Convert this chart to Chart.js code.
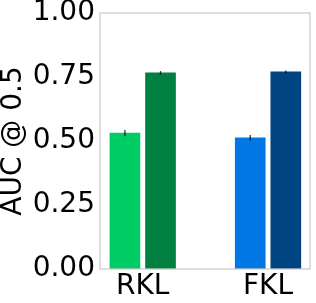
<!DOCTYPE html>
<html>
<head>
<meta charset="utf-8">
<script src="https://cdn.jsdelivr.net/npm/chart.js@4"></script>
<style>
  html, body { margin: 0; padding: 0; background: #fff; }
  #wrap { width: 316px; height: 303px; }
</style>
</head>
<body>
<div id="wrap"><canvas id="aucChart"></canvas></div>
<script>
let categories = ["RKL", "FKL"];
let firstValues = [0.531, 0.512];
let firstErrors = [0.012, 0.011];
let secondValues = [0.766, 0.770];
let secondErrors = [0.007, 0.005];
let firstColors = ["#00cc66", "#0077e5"];
let secondColors = ["#008040", "#004481"];
let yTicks = [0, 0.25, 0.5, 0.75, 1];

// offset of each bar from its group centre, in x units
let shift = 0.142;

let font = { family: "DejaVu Sans", size: 28, lineHeight: 1 };

let errorBars = {
    id: "errorBars",
    afterDatasetsDraw(chart) {
        let ctx = chart.ctx;
        let y = chart.scales.y;
        let a = chart.chartArea;
        ctx.save();
        // frame round the plot
        ctx.strokeStyle = "#cccccc";
        ctx.lineWidth = 1.3;
        ctx.strokeRect(a.left, a.top, a.right - a.left, a.bottom - a.top);
        ctx.strokeStyle = "rgba(0,0,0,0.8)";
        ctx.lineWidth = 1.3;
        chart.data.datasets.forEach((ds, di) => {
            let meta = chart.getDatasetMeta(di);
            meta.data.forEach((bar, i) => {
                let v = ds.data[i].y;
                let e = ds.errors[i];
                ctx.beginPath();
                ctx.moveTo(bar.x, y.getPixelForValue(v - e));
                ctx.lineTo(bar.x, y.getPixelForValue(v + e));
                ctx.stroke();
            });
        });
        ctx.restore();
    }
};

new Chart("aucChart", {
    type: "bar",
    data: {
        datasets: [
            {
                data: firstValues.map((v, i) => ({ x: i - shift, y: v })),
                errors: firstErrors,
                backgroundColor: firstColors
            },
            {
                data: secondValues.map((v, i) => ({ x: i + shift, y: v })),
                errors: secondErrors,
                backgroundColor: secondColors
            }
        ]
    },
    options: {
        responsive: true,
        maintainAspectRatio: false,
        animation: false,
        layout: { padding: { top: 13, right: 6, bottom: 0, left: 0 } },
        datasets: {
            bar: {
                grouped: false,
                categoryPercentage: 1,
                barPercentage: 1,
                maxBarThickness: 30
            }
        },
        plugins: {
            legend: { display: false },
            tooltip: { enabled: false }
        },
        scales: {
            x: {
                type: "linear",
                offset: false,
                min: -0.341,
                max: 1.335,
                grid: { display: false, drawTicks: false },
                border: { display: false },
                afterBuildTicks: s => { s.ticks = categories.map((c, i) => ({ value: i })); },
                ticks: {
                    font: font,
                    color: "#000",
                    padding: 4,
                    maxRotation: 0,
                    callback: v => categories[v]
                },
                afterFit: s => { s.height = 34; s.paddingLeft = 0; s.paddingRight = 0; }
            },
            y: {
                min: 0,
                max: 1,
                grid: { display: false, drawTicks: false },
                border: { display: false },
                afterBuildTicks: s => { s.ticks = yTicks.map(v => ({ value: v })); },
                ticks: {
                    font: font,
                    color: "#000",
                    padding: 5,
                    callback: v => v.toFixed(2)
                },
                title: {
                    display: true,
                    text: "AUC @ 0.5",
                    font: font,
                    color: "#000",
                    padding: { top: 0, bottom: 0 }
                },
                afterFit: s => { s.width = 100; s.paddingTop = 0; s.paddingBottom = 0; }
            }
        }
    },
    plugins: [errorBars]
});
</script>
</body>
</html>
